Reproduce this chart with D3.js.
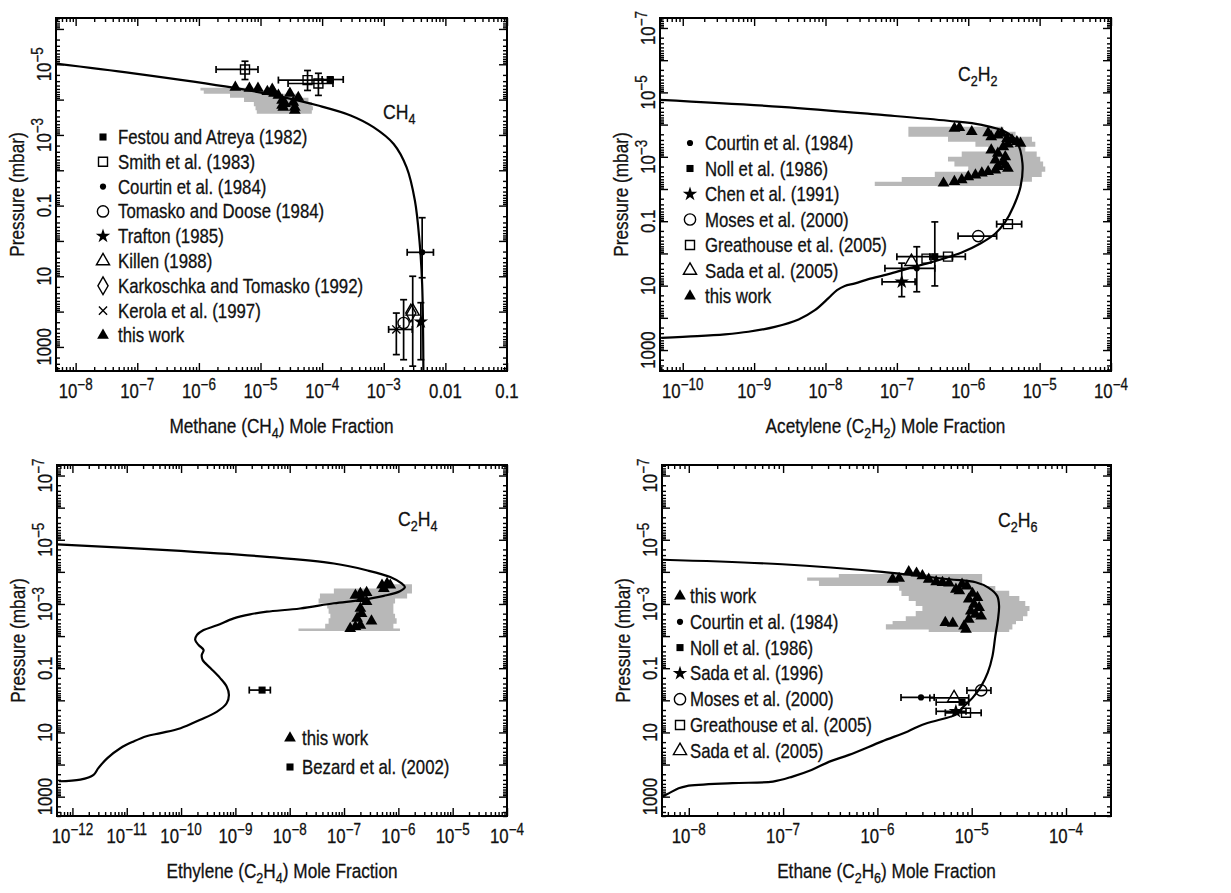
<!DOCTYPE html>
<html lang="en">
<head>
<meta charset="UTF-8">
<title>Hydrocarbon mole fraction profiles</title>
<script src="https://cdnjs.cloudflare.com/ajax/libs/d3/7.8.5/d3.min.js"></script>
<style>
  body { margin: 0; background: #fff; }
  svg { display: block; font-family: "Liberation Sans", Arial, sans-serif; }
  svg text { fill: #111; stroke: #111; stroke-width: 0.3; }
  .tick line { stroke: #000; stroke-width: 1.4; }
  .tick text { display: none; }
  .domain { display: none; }
</style>
</head>
<body>
<div id="chart"></div>
<script>
// ---------- methane (CH4) ----------
const ch4ModelX = [4.7e-9, 8.7e-8, 3.6e-6, 2.3e-5, 8.3e-5, 2.9e-4, 6.8e-4, 1.45e-3, 2.35e-3, 3.2e-3, 3.8e-3, 4.2e-3, 4.4e-3];
const ch4ModelP = [9.5e-6, 1.8e-5, 4.6e-5, 8.5e-5, 1.45e-4, 2.8e-4, 6.0e-4, 1.8e-3, 8.3e-3, 0.072, 1.0, 17, 5200];
const ch4BandP  = [4.6e-5, 5.5e-5, 6.8e-5, 8.9e-5, 1.17e-4, 1.55e-4, 2.0e-4, 2.5e-4];
const ch4BandLo = [1.06e-6, 1.2e-6, 3.2e-6, 5.4e-6, 7.8e-6, 8.3e-6, 8.7e-6, 1.12e-5];
const ch4BandHi = [7.8e-6, 1.86e-5, 4.4e-5, 6.0e-5, 6.8e-5, 7.1e-5, 6.8e-5, 5.6e-5];
const ch4ThisWork = [[3.9e-6,4.5e-5],[6.6e-6,4.8e-5],[9.1e-6,4.8e-5],[1.29e-5,5.9e-5],[1.55e-5,5.1e-5],[1.66e-5,6.6e-5],
  [1.95e-5,7.6e-5],[2.24e-5,1.05e-4],[2.5e-5,1.29e-4],[2.34e-5,1.66e-4],[3.0e-5,6.6e-5],[3.4e-5,1.2e-4],
  [3.6e-5,1.66e-4],[4.1e-5,8.7e-5],[3.6e-5,2.0e-4],[2.24e-5,1.45e-4]];
// [x, p, xlo, xhi, plo, phi]
const ch4Festou = [[1.35e-4, 2.7e-5, 1.0e-4, 2.2e-4, null, null]];
const ch4Smith = [[5.6e-6, 1.4e-5, 1.9e-6, 9.1e-6, 8.2e-6, 2.7e-5], [5.8e-5, 2.8e-5, 1.95e-5, 1.5e-4, 1.5e-5, 5.5e-5],
  [8.7e-5, 3.5e-5, 2.8e-5, 1.5e-4, 1.8e-5, 7.6e-5]];
const ch4Courtin = [[4.2e-3, 2.1, 2.4e-3, 6.4e-3, 0.22, 11]];
const ch4Tomasko = [[2.1e-3, 210, null, null, 46, 2300]];
const ch4Trafton = [[4.0e-3, 195, null, null, 56, 2300]];
const ch4Killen = [[2.95e-3, 98, null, null, 10, 3500]];
const ch4Karkoschka = [[2.75e-3, 110, null, null, null, null]];
const ch4Kerola = [[1.6e-3, 320, 1.2e-3, 2.9e-3, 110, 1650]];
const ch4XLabels = [1e-8, 1e-7, 1e-6, 1e-5, 1e-4, 1e-3, 0.01, 0.1];
const ch4YLabels = [1e-5, 1e-3, 0.1, 10, 1000];

// ---------- acetylene (C2H2) ----------
const c2h2ModelX = [4.8e-11, 2.4e-9, 6.2e-8, 5.2e-7, 1.55e-6, 3.3e-6, 4.8e-6, 5.75e-6, 5.4e-6, 4.3e-6, 3.3e-6, 2.4e-6,
  1.48e-6, 8.1e-7, 4.7e-7, 2.75e-7, 1.45e-7, 7.6e-8, 4.0e-8, 2.6e-8, 1.86e-8, 1.45e-8, 1.1e-8, 7.1e-9, 4.2e-9,
  1.95e-9, 8.3e-10, 3.9e-10, 1.6e-10, 5.0e-11];
const c2h2ModelP = [1.7e-5, 2.8e-5, 5.0e-5, 7.6e-5, 1.02e-4, 1.66e-4, 3.4e-4, 1.6e-3, 8.5e-3, 0.035, 0.105, 0.24,
  0.49, 0.93, 1.41, 2.0, 2.9, 4.4, 6.3, 8.5, 10.2, 13.8, 24.5, 58, 112, 190, 270, 324, 370, 417];
const c2h2BandP  = [1.17e-4, 1.66e-4, 2.4e-4, 3.4e-4, 4.9e-4, 6.9e-4, 1.0e-3, 1.4e-3, 2.0e-3, 2.9e-3, 4.2e-3, 5.9e-3, 8.1e-3];
const c2h2BandLo = [1.45e-7, 1.45e-7, 5.2e-7, 1.26e-6, 1.9e-6, 8.1e-7, 5.2e-7, 6.4e-7, 1.0e-6, 3.4e-7, 1.17e-7, 4.9e-8, 4.4e-8];
const c2h2BandHi = [3.1e-6, 4.6e-6, 7.8e-6, 8.7e-6, 6.3e-6, 9.1e-6, 1.02e-5, 1.12e-5, 1.2e-5, 1.07e-5, 7.8e-6, 5.6e-6, 4.6e-6];
const c2h2ThisWork = [[6.4e-7,1.3e-4],[7.5e-7,1.25e-4],[1.12e-6,1.66e-4],[1.9e-6,1.8e-4],[2.95e-6,1.86e-4],[2.1e-6,2.4e-4],
  [2.6e-6,2.1e-4],[3.5e-6,2.7e-4],[4.1e-6,3.0e-4],[4.8e-6,3.4e-4],[5.4e-6,3.8e-4],[3.6e-6,4.0e-4],[3.1e-6,4.9e-4],
  [2.1e-6,6.2e-4],[2.6e-6,7.8e-4],[2.4e-6,1.26e-3],[3.1e-6,1.4e-3],[3.3e-6,1.0e-3],[2.6e-6,2.0e-3],[3.3e-6,1.8e-3],
  [3.6e-6,2.3e-3],[2.4e-6,2.6e-3],[1.9e-6,2.9e-3],[1.55e-6,3.2e-3],[1.26e-6,3.7e-3],[1.0e-6,4.2e-3],[8.1e-7,5.2e-3],
  [6.4e-7,5.9e-3],[4.5e-7,6.6e-3]];
const c2h2Courtin = [[1.9e-7, 2.9, 6.8e-8, 3.4e-7, 0.62, 15.5]];
const c2h2Noll = [[3.4e-7, 1.26, 1.0e-7, 6.0e-7, 0.105, 10.2]];
const c2h2Chen = [[1.17e-7, 7.6, 6.2e-8, 1.8e-7, 2.0, 22]];
const c2h2Moses = [[1.38e-6, 0.29, 7.2e-7, 2.5e-6, null, null]];
const c2h2Greathouse = [[3.6e-6, 0.123, 2.5e-6, 5.6e-6, null, null], [5.2e-7, 1.26, 2.9e-7, 9.1e-7, null, null],
  [2.6e-7, 1.45, null, null, null, null]];
const c2h2Sada = [[1.6e-7, 1.8, null, null, null, null]];
const c2h2XLabels = [1e-10, 1e-9, 1e-8, 1e-7, 1e-6, 1e-5, 1e-4];

// ---------- ethylene (C2H4) ----------
const c2h4ModelX = [5.2e-13, 5.5e-11, 3.8e-9, 6.5e-8, 2.6e-7, 7.1e-7, 1.15e-6, 1.32e-6, 1.07e-6, 5.4e-7, 2.0e-7, 6.5e-8,
  1.55e-8, 3.8e-9, 1.86e-9, 9.3e-10, 4.6e-10, 2.6e-10, 1.95e-10, 1.82e-10, 2.1e-10, 2.6e-10, 2.4e-10, 2.5e-10,
  3.5e-10, 5.2e-10, 6.9e-10, 7.6e-10, 6.9e-10, 4.6e-10, 2.2e-10, 9.8e-11, 4.2e-11, 2.3e-11, 1.35e-11, 7.6e-12,
  4.4e-12, 3.0e-12, 2.45e-12, 1.4e-12, 5.6e-13];
const c2h4ModelP = [1.4e-5, 2.1e-5, 3.4e-5, 5.5e-5, 8.9e-5, 1.45e-4, 2.3e-4, 2.95e-4, 4.0e-4, 5.6e-4, 7.6e-4, 9.5e-4,
  1.38e-3, 1.74e-3, 2.1e-3, 2.8e-3, 4.6e-3, 6.5e-3, 9.3e-3, 0.0132, 0.019, 0.027, 0.039, 0.056,
  0.1, 0.2, 0.37, 0.68, 1.23, 2.24, 4.1, 7.4, 10.5, 13.2, 19, 31, 63, 129, 209, 295, 331];
const c2h4BandP  = [2.45e-4, 3.3e-4, 4.7e-4, 6.8e-4, 9.6e-4, 1.38e-3, 2.0e-3, 2.8e-3, 4.1e-3, 5.8e-3, 6.9e-3];
const c2h4BandLo = [4.7e-7, 6.5e-8, 3.6e-8, 3.4e-8, 4.9e-8, 5.2e-8, 5.6e-8, 5.2e-8, 4.5e-8, 1.45e-8, 1.55e-8];
const c2h4BandHi = [1.78e-6, 1.78e-6, 1.45e-6, 8.7e-7, 8.1e-7, 8.1e-7, 8.7e-7, 9.3e-7, 8.1e-7, 1.07e-6, 1.07e-6];
const c2h4ThisWork = [[5.0e-7,2.6e-4],[6.2e-7,2.3e-4],[7.1e-7,2.6e-4],[5.4e-7,3.3e-4],[1.62e-7,5.4e-4],[2.0e-7,4.7e-4],
  [2.6e-7,4.4e-4],[2.1e-7,6.8e-4],[2.6e-7,8.5e-4],[2.0e-7,1.38e-3],[2.1e-7,2.0e-3],[1.74e-7,2.8e-3],[3.2e-7,3.4e-3],
  [1.3e-7,5.8e-3],[1.62e-7,5.1e-3],[2.0e-7,4.6e-3]];
const c2h4Bezard = [[3.1e-9, 0.48, 1.8e-9, 4.4e-9, null, null]];
const c2h4XLabels = [1e-12, 1e-11, 1e-10, 1e-9, 1e-8, 1e-7, 1e-6, 1e-5, 1e-4];

// ---------- ethane (C2H6) ----------
const c2h6ModelX = [5.2e-9, 9.8e-8, 1.12e-6, 5.75e-6, 1.1e-5, 1.5e-5, 1.86e-5, 1.95e-5, 1.9e-5, 1.78e-5, 1.66e-5, 1.48e-5,
  1.26e-5, 1.02e-5, 7.9e-6, 6.8e-6, 4.9e-6, 3.0e-6, 2.1e-6, 1.12e-6, 5.0e-7, 3.1e-7, 2.0e-7, 1.26e-7, 7.8e-8,
  2.9e-8, 9.5e-9, 7.8e-9, 6.2e-9, 5.2e-9];
const c2h6ModelP = [4.2e-5, 5.8e-5, 1.0e-4, 1.7e-4, 2.1e-4, 3.1e-4, 5.6e-4, 1.15e-3, 3.0e-3, 0.01, 0.042, 0.138,
  0.36, 0.84, 1.74, 2.8, 3.8, 5.75, 9.3, 19, 50, 81, 148, 237, 339, 380, 468, 550, 776, 1000];
const c2h6BandP  = [1.17e-4, 1.5e-4, 1.9e-4, 2.75e-4, 3.9e-4, 5.6e-4, 8.1e-4, 1.15e-3, 1.66e-3, 2.4e-3, 3.4e-3, 4.3e-3, 6.2e-3, 7.5e-3];
const c2h6BandLo = [3.9e-7, 1.8e-7, 2.4e-7, 1.7e-6, 1.8e-6, 2.15e-6, 2.55e-6, 3.0e-6, 2.55e-6, 2.0e-6, 1.45e-6, 1.23e-6, 3.5e-6, 5.75e-6];
const c2h6BandHi = [1.29e-5, 1.29e-5, 1.29e-5, 1.78e-5, 2.5e-5, 3.2e-5, 3.7e-5, 4.1e-5, 3.9e-5, 3.5e-5, 2.95e-5, 2.7e-5, 2.5e-5, 2.3e-5];
const c2h6ThisWork = [[1.45e-6,1.7e-4],[1.7e-6,1.6e-4],[2.15e-6,1.0e-4],[2.6e-6,1.1e-4],[3.0e-6,1.33e-4],[3.5e-6,1.7e-4],
  [4.2e-6,2.05e-4],[4.9e-6,2.15e-4],[5.75e-6,2.25e-4],[6.8e-6,3.5e-4],[7.9e-6,2.45e-4],[8.9e-6,2.75e-4],[7.4e-6,3.9e-4],
  [1.02e-5,4.7e-4],[1.15e-5,6.3e-4],[9.3e-6,7.1e-4],[1.06e-5,1.02e-3],[1.2e-5,1.3e-3],[9.8e-6,1.66e-3],[1.1e-5,2.1e-3],
  [9.3e-6,3.0e-3],[1.26e-5,2.4e-3],[5.25e-6,3.8e-3],[6.3e-6,4.0e-3],[8.3e-6,4.9e-3],[8.7e-6,6.2e-3]];
const c2h6Courtin = [[2.9e-6, 0.81, 1.78e-6, 4.0e-6, null, null]];
const c2h6Noll = [[7.9e-6, 1.15, 4.2e-6, 9.3e-6, null, null]];
const c2h6Sada96 = [[6.8e-6, 2.2, 4.2e-6, 8.7e-6, null, null]];
const c2h6Moses = [[1.26e-5, 0.49, 8.9e-6, 1.6e-5, null, null]];
const c2h6Greathouse = [[8.7e-6, 2.45, 5.25e-6, 1.26e-5, null, null]];
const c2h6Sada05 = [[6.5e-6, 0.84, 3.6e-6, 9.3e-6, null, null]];
const c2h6XLabels = [1e-8, 1e-7, 1e-6, 1e-5, 1e-4];

const pressureLabels = [1e-7, 1e-5, 1e-3, 0.1, 10, 1000];

// ---------- drawing ----------
const FS = 20;     // base font size
const SX = 0.84;   // horizontal squeeze to mimic the narrow plot font
const svg = d3.select("#chart").append("svg").attr("width", 1231).attr("height", 893);

const SYM = {
  fsq:  {type: d3.symbolSquare, size: 50, fill: true},
  osq:  {type: d3.symbolSquare, size: 81, fill: false},
  fcirc:{type: d3.symbolCircle, size: 30, fill: true},
  ocirc:{type: d3.symbolCircle, size: 100, fill: false},
  star: {type: d3.symbolStar, size: 65, fill: true},
  otri: {type: d3.symbolTriangle, size: 75, fill: false},
  ftri: {type: d3.symbolTriangle, size: 60, fill: true},
  odia: {type: d3.symbolDiamond, size: 90, fill: false},
  times:{type: d3.symbolTimes || d3.symbolX, size: 45, fill: false}
};

function drawSym(g, key, cx, cy) {
  const s = SYM[key];
  g.append("path")
    .attr("transform", `translate(${cx},${cy})`)
    .attr("d", d3.symbol(s.type, s.size)())
    .attr("fill", s.fill ? "#000" : "none")
    .attr("stroke", s.fill ? "none" : "#000")
    .attr("stroke-width", 1.4);
}

function txt(g, x, y, size, anchor, rot) {
  return g.append("text")
    .attr("transform", `translate(${x},${y})` + (rot ? ` rotate(${rot})` : "") + ` scale(${SX},1)`)
    .attr("text-anchor", anchor || "start")
    .attr("font-size", size);
}

// alternating normal / subscript pieces
function rich(sel, parts, sub, shift) {
  parts.forEach((t, i) => {
    const ts = sel.append("tspan").text(t);
    if (i % 2 === 1) ts.attr("font-size", sub).attr("dy", shift);
    else if (i > 0) ts.attr("dy", -shift);
  });
}

function tickText(sel, v) {
  const e = Math.round(Math.log10(v));
  if (e <= -3) {
    sel.append("tspan").text("10");
    sel.append("tspan").attr("dy", -8).attr("font-size", 16).text("\u2212" + (-e));
  } else {
    sel.text(e < 0 ? v.toFixed(-e) : String(v));
  }
}

function decades(dom) {
  const out = [];
  for (let e = Math.ceil(Math.log10(dom[0]) - 1e-9); e <= Math.floor(Math.log10(dom[1]) + 1e-9); e++) out.push(Math.pow(10, e));
  return out;
}
function minors(dom) {
  const out = [];
  for (let e = Math.floor(Math.log10(dom[0])); e <= Math.ceil(Math.log10(dom[1])); e++)
    for (let k = 2; k <= 9; k++) {
      const v = k * Math.pow(10, e);
      if (v >= dom[0] && v <= dom[1]) out.push(v);
    }
  return out;
}

function drawPanel(c) {
  const x = d3.scaleLog().domain(c.xDomain).range([c.left, c.right]);
  const y = d3.scaleLog().domain(c.yDomain).range([c.top, c.bottom]);
  const g = svg.append("g");

  g.append("clipPath").attr("id", "clip-" + c.id).append("rect")
    .attr("x", c.left).attr("y", c.top).attr("width", c.right - c.left).attr("height", c.bottom - c.top);
  const plot = g.append("g").attr("clip-path", `url(#clip-${c.id})`);

  // retrieved range (grey)
  const band = c.bandP.map((p, i) => ({p, lo: c.bandLo[i], hi: c.bandHi[i]}));
  plot.append("path").datum(band)
    .attr("fill", "#b8b8b8")
    .attr("d", d3.area().y(d => y(d.p)).x0(d => x(d.lo)).x1(d => x(d.hi)).curve(d3.curveStepBefore));

  // model profile
  const model = c.modelX.map((v, i) => [v, c.modelP[i]]);
  plot.append("path").datum(model)
    .attr("fill", "none").attr("stroke", "#000").attr("stroke-width", 2.2)
    .attr("d", d3.line().x(d => x(d[0])).y(d => y(d[1])).curve(d3.curveCatmullRom.alpha(0.5)));

  // literature values with error bars
  c.series.forEach(s => {
    s.data.forEach(d => {
      const [vx, vp, xlo, xhi, plo, phi] = d;
      const px = x(vx), py = y(vp);
      if (xlo != null) {
        plot.append("line").attr("x1", x(xlo)).attr("x2", x(xhi)).attr("y1", py).attr("y2", py)
          .attr("stroke", "#000").attr("stroke-width", 1.7);
        [xlo, xhi].forEach(v => plot.append("line").attr("x1", x(v)).attr("x2", x(v))
          .attr("y1", py - 3.5).attr("y2", py + 3.5).attr("stroke", "#000").attr("stroke-width", 1.7));
      }
      if (plo != null) {
        plot.append("line").attr("x1", px).attr("x2", px).attr("y1", y(plo)).attr("y2", y(phi))
          .attr("stroke", "#000").attr("stroke-width", 1.7);
        [plo, phi].forEach(v => plot.append("line").attr("x1", px - 3.5).attr("x2", px + 3.5)
          .attr("y1", y(v)).attr("y2", y(v)).attr("stroke", "#000").attr("stroke-width", 1.7));
      }
      drawSym(plot, s.sym, px, py);
    });
  });

  // this work
  c.thisWork.forEach(d => drawSym(plot, "ftri", x(d[0]), y(d[1])));

  // frame + inward ticks on all sides
  g.append("rect").attr("x", c.left).attr("y", c.top)
    .attr("width", c.right - c.left).attr("height", c.bottom - c.top)
    .attr("fill", "none").attr("stroke", "#000").attr("stroke-width", 2);
  const axes = [
    [d3.axisBottom, x, `translate(0,${c.bottom})`, c.xDomain],
    [d3.axisTop, x, `translate(0,${c.top})`, c.xDomain],
    [d3.axisLeft, y, `translate(${c.left},0)`, c.yDomain],
    [d3.axisRight, y, `translate(${c.right},0)`, c.yDomain]
  ];
  axes.forEach(([gen, sc, tr, dom]) => {
    g.append("g").attr("transform", tr).call(gen(sc).tickValues(decades(dom)).tickSize(-8).tickSizeOuter(0).tickFormat(""));
    g.append("g").attr("transform", tr).call(gen(sc).tickValues(minors(dom)).tickSize(-4).tickSizeOuter(0).tickFormat(""));
  });

  // tick labels
  c.xLabels.forEach(v => tickText(txt(g, x(v), c.bottom + 27, FS, "middle"), v));
  c.yLabels.forEach(v => tickText(txt(g, c.left - 5, y(v), FS, "middle", -90), v));

  // axis titles
  rich(txt(g, (c.left + c.right) / 2, c.bottom + 62, FS + 0.5, "middle"), c.xTitle, 15, 5);
  txt(g, c.left - 32, (c.top + c.bottom) / 2, FS + 0.5, "middle", -90).text("Pressure (mbar)");

  // species tag
  rich(txt(g, c.tag.x, c.tag.y, FS + 1), c.tag.parts, 15, 5);

  // legend
  c.legend.forEach((e, i) => {
    const ly = c.leg.y0 + i * c.leg.dy;
    drawSym(g, e[1], c.leg.mx, ly);
    txt(g, c.leg.tx, ly + 7, FS).text(e[0]);
  });
}

drawPanel({
  id: "ch4", left: 56, right: 507, top: 18, bottom: 371,
  xDomain: [4.8e-9, 0.1], yDomain: [4.9e-7, 4800],
  modelX: ch4ModelX, modelP: ch4ModelP, bandP: ch4BandP, bandLo: ch4BandLo, bandHi: ch4BandHi,
  thisWork: ch4ThisWork,
  series: [
    {data: ch4Smith, sym: "osq"}, {data: ch4Festou, sym: "fsq"}, {data: ch4Courtin, sym: "fcirc"},
    {data: ch4Tomasko, sym: "ocirc"}, {data: ch4Trafton, sym: "star"}, {data: ch4Killen, sym: "otri"},
    {data: ch4Karkoschka, sym: "odia"}, {data: ch4Kerola, sym: "times"}
  ],
  xLabels: ch4XLabels, yLabels: ch4YLabels,
  xTitle: ["Methane (CH", "4", ") Mole Fraction"],
  tag: {x: 383, y: 119, parts: ["CH", "4"]},
  leg: {mx: 103, tx: 118, y0: 137, dy: 24.8},
  legend: [["Festou and Atreya (1982)", "fsq"], ["Smith et al. (1983)", "osq"], ["Courtin et al. (1984)", "fcirc"],
    ["Tomasko and Doose (1984)", "ocirc"], ["Trafton (1985)", "star"], ["Killen (1988)", "otri"],
    ["Karkoschka and Tomasko (1992)", "odia"], ["Kerola et al. (1997)", "times"], ["this work", "ftri"]]
});

drawPanel({
  id: "c2h2", left: 660, right: 1111, top: 18, bottom: 371,
  xDomain: [4.8e-11, 1e-4], yDomain: [4.9e-8, 4470],
  modelX: c2h2ModelX, modelP: c2h2ModelP, bandP: c2h2BandP, bandLo: c2h2BandLo, bandHi: c2h2BandHi,
  thisWork: c2h2ThisWork,
  series: [
    {data: c2h2Courtin, sym: "fcirc"}, {data: c2h2Noll, sym: "fsq"}, {data: c2h2Chen, sym: "star"},
    {data: c2h2Moses, sym: "ocirc"}, {data: c2h2Greathouse, sym: "osq"}, {data: c2h2Sada, sym: "otri"}
  ],
  xLabels: c2h2XLabels, yLabels: pressureLabels,
  xTitle: ["Acetylene (C", "2", "H", "2", ") Mole Fraction"],
  tag: {x: 958, y: 81, parts: ["C", "2", "H", "2"]},
  leg: {mx: 690, tx: 705, y0: 143, dy: 25.5},
  legend: [["Courtin et al. (1984)", "fcirc"], ["Noll et al. (1986)", "fsq"], ["Chen et al. (1991)", "star"],
    ["Moses et al. (2000)", "ocirc"], ["Greathouse et al. (2005)", "osq"], ["Sada et al. (2005)", "otri"],
    ["this work", "ftri"]]
});

drawPanel({
  id: "c2h4", left: 57, right: 507, top: 465, bottom: 816,
  xDomain: [5.2e-13, 1e-4], yDomain: [4.7e-8, 4000],
  modelX: c2h4ModelX, modelP: c2h4ModelP, bandP: c2h4BandP, bandLo: c2h4BandLo, bandHi: c2h4BandHi,
  thisWork: c2h4ThisWork,
  series: [{data: c2h4Bezard, sym: "fsq"}],
  xLabels: c2h4XLabels, yLabels: pressureLabels,
  xTitle: ["Ethylene (C", "2", "H", "4", ") Mole Fraction"],
  tag: {x: 398, y: 526, parts: ["C", "2", "H", "4"]},
  leg: {mx: 290, tx: 302, y0: 738, dy: 29},
  legend: [["this work", "ftri"], ["Bezard et al. (2002)", "fsq"]]
});

drawPanel({
  id: "c2h6", left: 662, right: 1111, top: 465, bottom: 816,
  xDomain: [5.2e-9, 3.0e-4], yDomain: [4.7e-8, 4000],
  modelX: c2h6ModelX, modelP: c2h6ModelP, bandP: c2h6BandP, bandLo: c2h6BandLo, bandHi: c2h6BandHi,
  thisWork: c2h6ThisWork,
  series: [
    {data: c2h6Courtin, sym: "fcirc"}, {data: c2h6Noll, sym: "fsq"}, {data: c2h6Sada96, sym: "star"},
    {data: c2h6Moses, sym: "ocirc"}, {data: c2h6Greathouse, sym: "osq"}, {data: c2h6Sada05, sym: "otri"}
  ],
  xLabels: c2h6XLabels, yLabels: pressureLabels,
  xTitle: ["Ethane (C", "2", "H", "6", ") Mole Fraction"],
  tag: {x: 998, y: 527, parts: ["C", "2", "H", "6"]},
  leg: {mx: 680, tx: 690, y0: 596, dy: 25.8},
  legend: [["this work", "ftri"], ["Courtin et al. (1984)", "fcirc"], ["Noll et al. (1986)", "fsq"],
    ["Sada et al. (1996)", "star"], ["Moses et al. (2000)", "ocirc"], ["Greathouse et al. (2005)", "osq"],
    ["Sada et al. (2005)", "otri"]]
});
</script>
</body>
</html>
